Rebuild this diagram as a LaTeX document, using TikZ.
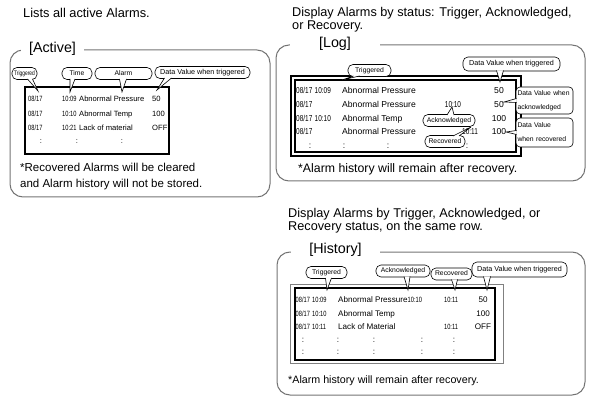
\documentclass[tikz,border=0pt]{standalone}
\usepackage{fontspec}
\setmainfont{Liberation Sans}
\newfontfamily\narrowfont[FakeStretch=0.75]{Liberation Sans}

\tikzset{
  panel/.style={draw=black!55, line width=1pt, rounded corners=13pt},
  frame/.style={draw=black, line width=2.2pt},
  paneltitle/.style={fill=white, inner sep=0pt, anchor=base, font=\fontsize{14.3}{16}\selectfont},
  headline/.style={anchor=north west, inner sep=0pt, align=left, font=\fontsize{12.7}{13}\selectfont},
  note/.style={anchor=base west, inner sep=0pt},
  tag/.style={draw, fill=white, line width=0.6pt, rounded corners=5pt, inner sep=0.5pt,
    minimum height=12pt, text height=4.7pt, text depth=1.3pt, font=\fontsize{6.8}{7}\selectfont},
  tagbox/.style={draw, fill=white, line width=0.6pt, rounded corners=4pt, inner xsep=1.5pt,
    inner ysep=1pt, align=left, text width=54pt, font=\fontsize{6.8}{14}\selectfont},
  pointer/.style={draw, fill=white, line width=0.6pt, line join=miter},
}

\begin{document}
\begin{tikzpicture}[x=1pt,y=-1pt]
  \useasboundingbox (0,0) rectangle (591,403);

  % Active
  \node[headline, font=\fontsize{12.8}{13}\selectfont] (headA) at (23,8.4) {Lists all active Alarms.};
  \draw[panel] (10,50) rectangle (270,197);
  \node[paneltitle, minimum width=63pt] (titleA) at (52.5,53) {[Active]};
  \draw[frame] (25,87) rectangle (169,154);
  \begin{scope}[every node/.style={anchor=base west, inner sep=0pt, font=\fontsize{7.6}{9}\selectfont},
      num/.style={font=\narrowfont\fontsize{7.6}{9}\selectfont}]
    \node[num] (a11) at (28,101.2) {08/17};
    \node[num] (a12) at (62,101.2) {10:09};
    \node (a13) at (79,101.2) {Abnormal Pressure};
    \node (a14) at (152,101.2) {50};
    \node[num] (a21) at (28,116.2) {08/17};
    \node[num] (a22) at (62,116.2) {10:10};
    \node (a23) at (79,116.2) {Abnormal Temp};
    \node (a24) at (152,116.2) {100};
    \node[num] (a31) at (28,130.2) {08/17};
    \node[num] (a32) at (62,130.2) {10:21};
    \node (a33) at (79,130.2) {Lack of material};
    \node (a34) at (152,130.2) {OFF};
    \node[anchor=base] (a41) at (41,144) {:};
    \node[anchor=base] (a42) at (77,144) {:};
    \node[anchor=base] (a43) at (122,144) {:};
  \end{scope}
  \node[headline, font=\fontsize{11.5}{16}\selectfont] (noteA) at (20,163)
    {*Recovered Alarms will be cleared\\and Alarm history will not be stored.};

  % Log
  \node[headline] (headL) at (292,7.4) {Display Alarms by status: Trigger, Acknowledged,\\or Recovery.};
  \draw[panel] (276,45) rectangle (585,181);
  \node[paneltitle, minimum width=90pt] (titleL) at (335,48) {[Log]};
  \draw[frame, line width=2pt] (290.5,76.5) rectangle (520.5,156);
  \draw[frame, line width=2pt] (295,80.5) rectangle (516,152);
  \begin{scope}[every node/.style={anchor=base west, inner sep=0pt, font=\fontsize{8.6}{10}\selectfont},
      num/.style={font=\narrowfont\fontsize{8.6}{10}\selectfont}]
    \node[num] (l11) at (296,93.6) {08/17};
    \node[num] (l12) at (314.5,93.6) {10:09};
    \node (l13) at (342,93.6) {Abnormal Pressure};
    \node[anchor=base] (l15) at (499,93.6) {50};
    \node[num] (l21) at (296,107.1) {08/17};
    \node (l23) at (342,107.1) {Abnormal Pressure};
    \node[num, anchor=base] (l24) at (453,107.1) {10:10};
    \node[anchor=base] (l25) at (499,107.1) {50};
    \node[num] (l31) at (296,121.1) {08/17};
    \node[num] (l32) at (314.5,121.1) {10:10};
    \node (l33) at (342,121.1) {Abnormal Temp};
    \node[anchor=base] (l35) at (499,121.1) {100};
    \node[num] (l41) at (296,134.6) {08/17};
    \node (l43) at (342,134.6) {Abnormal Pressure};
    \node[num, anchor=base] (l44) at (470,134.6) {10:11};
    \node[anchor=base] (l45) at (499,134.6) {100};
    \node[anchor=base] (l51) at (310,148.2) {:};
    \node[anchor=base] (l52) at (344,148.2) {:};
    \node[anchor=base] (l53) at (388,148.2) {:};
    \node[anchor=base] (l54) at (467,148.2) {:};
  \end{scope}
  \node[note, font=\fontsize{12.3}{14}\selectfont] (noteL) at (298,172.4) {*Alarm history will remain after recovery.};

  % History
  \node[headline] (headH) at (288,208) {Display Alarms by Trigger, Acknowledged, or\\Recovery status, on the same row.};
  \draw[panel] (277,252) rectangle (585,395);
  \node[paneltitle, minimum width=89pt] (titleH) at (335.5,253) {[History]};
  \draw[draw=black!50, line width=0.8pt] (290,284) rectangle (503,363);
  \draw[frame] (295,288) rectangle (495,360);
  \begin{scope}[every node/.style={anchor=base west, inner sep=0pt, font=\fontsize{8.1}{10}\selectfont},
      num/.style={font=\narrowfont\fontsize{7.6}{10}\selectfont}]
    \node[num] (h11) at (295.5,302.4) {08/17};
    \node[num] (h12) at (312,302.4) {10:09};
    \node (h13) at (338,302.4) {Abnormal Pressure};
    \node[num] (h14) at (407.5,302.4) {10:10};
    \node[num, anchor=base] (h15) at (451,302.4) {10:11};
    \node[anchor=base] (h16) at (483,302.4) {50};
    \node[num] (h21) at (295.5,316.4) {08/17};
    \node[num] (h22) at (312,316.4) {10:10};
    \node (h23) at (338,316.4) {Abnormal Temp};
    \node[anchor=base] (h26) at (483,316.4) {100};
    \node[num] (h31) at (295.5,329.9) {08/17};
    \node[num] (h32) at (312,329.9) {10:11};
    \node (h33) at (338,329.9) {Lack of Material};
    \node[num, anchor=base] (h35) at (451,329.9) {10:11};
    \node[anchor=base] (h36) at (483,329.9) {OFF};
    \node[anchor=base] (h41) at (303,342.1) {:};
    \node[anchor=base] (h42) at (338,342.1) {:};
    \node[anchor=base] (h43) at (374,342.1) {:};
    \node[anchor=base] (h44) at (422,342.1) {:};
    \node[anchor=base] (h45) at (454,342.1) {:};
    \node[anchor=base] (h51) at (303,354.1) {:};
    \node[anchor=base] (h52) at (338,354.1) {:};
    \node[anchor=base] (h53) at (374,354.1) {:};
    \node[anchor=base] (h54) at (422,354.1) {:};
    \node[anchor=base] (h55) at (454,354.1) {:};
  \end{scope}
  \node[note, font=\fontsize{10.7}{12}\selectfont] (noteH) at (288,383.9) {*Alarm history will remain after recovery.};

  % callouts
  \node[tag, minimum width=25pt, font=\narrowfont\fontsize{6.5}{7}\selectfont] (trigA) at (24.5,73.5) {Triggered};
  \node[tag, minimum width=30pt] (timeA) at (77,73.5) {Time};
  \node[tag, minimum width=57pt] (alarmA) at (123.5,73.5) {Alarm};
  \node[tag, minimum width=95pt, font=\fontsize{7.2}{8}\selectfont] (dvA) at (202.5,72.5) {Data Value when triggered};
  \coordinate (trigAtip) at (38,91);
  \coordinate (timeAtip) at (70,92);
  \coordinate (alarmAtip) at (122,92);
  \coordinate (dvAtip) at (157,90);
  \draw[pointer] ([xshift=3pt,yshift=0.8pt]trigA.south) -- (trigAtip) -- ([xshift=8pt,yshift=0.8pt]trigA.south);
  \draw[pointer] ([xshift=-7pt,yshift=0.8pt]timeA.south) -- (timeAtip) -- ([xshift=-2pt,yshift=0.8pt]timeA.south);
  \draw[pointer] ([xshift=-4pt,yshift=0.8pt]alarmA.south) -- (alarmAtip) -- ([xshift=3pt,yshift=0.8pt]alarmA.south);
  \draw[pointer] ([xshift=-38pt,yshift=0.8pt]dvA.south) -- (dvAtip) -- ([xshift=-31pt,yshift=0.8pt]dvA.south);

  \node[tag, minimum width=43pt] (trigL) at (369.5,70.5) {Triggered};
  \node[tag, minimum width=97pt, minimum height=14pt, font=\fontsize{7.2}{8}\selectfont] (dvL) at (511.5,64) {Data Value when triggered};
  \node[tagbox, minimum height=27pt] (ackbox) at (544.5,100.5) {Data Value when\\acknowledged};
  \node[tagbox, minimum height=29pt] (recbox) at (544.5,132.5) {Data Value\\when recovered};
  \node[tag, minimum width=52pt] (ackL) at (449,120.5) {Acknowledged};
  \node[tag, minimum width=40pt] (recL) at (445,141.5) {Recovered};
  \coordinate (trigLtip) at (342,80);
  \coordinate (dvLtip) at (500,82);
  \coordinate (ackboxtip) at (504,102);
  \coordinate (recboxtip) at (506,132);
  \coordinate (ackLtip) at (452,107);
  \coordinate (recLtip) at (471,127);
  \draw[pointer] ([xshift=-16pt,yshift=0.8pt]trigL.south) -- (trigLtip) -- ([xshift=-10pt,yshift=0.8pt]trigL.south);
  \draw[pointer] ([xshift=-15pt,yshift=0.8pt]dvL.south) -- (dvLtip) -- ([xshift=-8pt,yshift=0.8pt]dvL.south);
  \draw[pointer] ([xshift=0.8pt,yshift=2pt]ackbox.west) -- (ackboxtip) -- ([xshift=0.8pt,yshift=-2pt]ackbox.west);
  \draw[pointer] ([xshift=0.8pt,yshift=2pt]recbox.west) -- (recboxtip) -- ([xshift=0.8pt,yshift=-2pt]recbox.west);
  \draw[pointer] ([xshift=-2pt,yshift=-0.8pt]ackL.north) -- (ackLtip) -- ([xshift=5pt,yshift=-0.8pt]ackL.north);
  \draw[pointer] ([xshift=8pt,yshift=-0.8pt]recL.north) -- (recLtip) -- ([xshift=14pt,yshift=-0.8pt]recL.north);

  \node[tag, minimum width=41pt] (trigH) at (326.5,272.5) {Triggered};
  \node[tag, minimum width=54pt] (ackH) at (403,271) {Acknowledged};
  \node[tag, minimum width=41pt] (recH) at (451.5,274) {Recovered};
  \node[tag, minimum width=95pt, minimum height=15pt, font=\fontsize{7.2}{8}\selectfont] (dvH) at (519.5,269.5) {Data Value when triggered};
  \coordinate (trigHtip) at (327,290);
  \coordinate (ackHtip) at (408,290);
  \coordinate (recHtip) at (455,290);
  \coordinate (dvHtip) at (487,290);
  \draw[pointer] ([xshift=-1pt,yshift=0.8pt]trigH.south) -- (trigHtip) -- ([xshift=5pt,yshift=0.8pt]trigH.south);
  \draw[pointer] ([xshift=1pt,yshift=0.8pt]ackH.south) -- (ackHtip) -- ([xshift=7pt,yshift=0.8pt]ackH.south);
  \draw[pointer] ([xshift=0pt,yshift=0.8pt]recH.south) -- (recHtip) -- ([xshift=6pt,yshift=0.8pt]recH.south);
  \draw[pointer] ([xshift=-36pt,yshift=0.8pt]dvH.south) -- (dvHtip) -- ([xshift=-29pt,yshift=0.8pt]dvH.south);
\end{tikzpicture}
\end{document}
